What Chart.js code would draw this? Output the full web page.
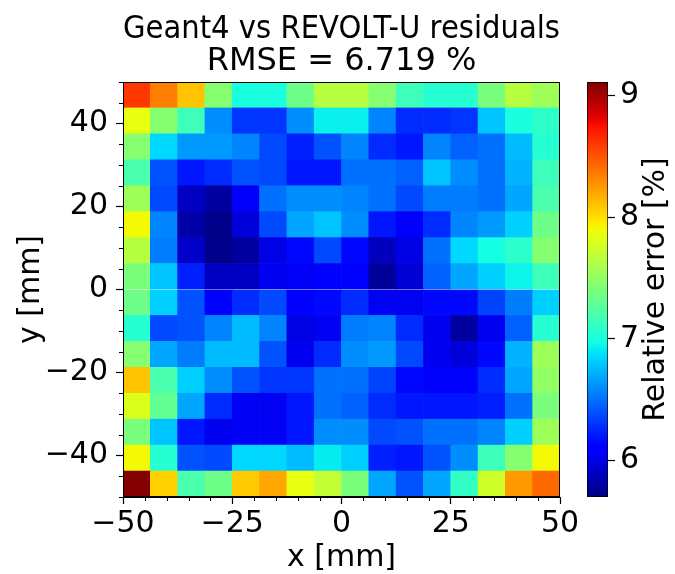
<!DOCTYPE html>
<html>
<head>
<meta charset="utf-8">
<script src="https://cdn.jsdelivr.net/npm/chart.js@4.4.0/dist/chart.umd.min.js"></script>
<style>
  body { margin: 0; background: #fff; }
  #wrap { position: relative; width: 675px; height: 574px; }
  #wrap canvas { position: absolute; top: 0; }
</style>
</head>
<body>
<div id="wrap">
  <canvas id="heat" width="675" height="574" style="left:0"></canvas>
  <canvas id="cbar" width="115" height="574" style="left:560px"></canvas>
</div>
<script>
// Residual map Geant4 vs REVOLT-U, drawn as floating bars on linear scales

const FONT = "'DejaVu Sans', sans-serif";

const titleLines = ["Geant4 vs REVOLT-U residuals", "RMSE = 6.719 %"];

// cell centres (mm), 16 x 16 grid of 6.25 mm
const cellSize = 6.25;
const xCenters = [-46.875, -40.625, -34.375, -28.125, -21.875, -15.625, -9.375, -3.125,
                  3.125, 9.375, 15.625, 21.875, 28.125, 34.375, 40.625, 46.875];
const yCenters = [46.875, 40.625, 34.375, 28.125, 21.875, 15.625, 9.375, 3.125,
                  -3.125, -9.375, -15.625, -21.875, -28.125, -34.375, -40.625, -46.875];

// relative error [%], rows from top (y = +50) to bottom (y = -50)
const relErr = [
  [8.60, 8.35, 8.10, 7.45, 7.00, 7.00, 7.35, 7.65, 7.65, 7.45, 7.15, 7.05, 7.05, 7.40, 7.65, 7.55],
  [7.85, 7.45, 7.15, 6.60, 6.30, 6.30, 6.60, 6.93, 6.93, 6.57, 6.27, 6.27, 6.30, 6.78, 7.00, 7.08],
  [7.45, 6.85, 6.64, 6.64, 6.57, 6.37, 6.23, 6.40, 6.57, 6.27, 6.20, 6.57, 6.45, 6.50, 6.75, 7.05],
  [7.20, 6.40, 6.20, 6.27, 6.40, 6.37, 6.20, 6.20, 6.50, 6.50, 6.45, 6.78, 6.60, 6.50, 6.72, 7.15],
  [7.55, 6.37, 5.90, 5.80, 6.06, 6.50, 6.60, 6.60, 6.57, 6.50, 6.37, 6.54, 6.54, 6.50, 6.68, 7.20],
  [7.90, 6.57, 5.82, 5.73, 5.97, 6.37, 6.68, 6.78, 6.60, 6.20, 6.06, 6.27, 6.57, 6.64, 6.82, 7.35],
  [7.65, 6.54, 5.92, 5.73, 5.80, 6.00, 6.15, 6.37, 6.15, 5.88, 6.00, 6.50, 6.85, 6.98, 7.08, 7.45],
  [7.40, 6.78, 6.23, 5.90, 5.90, 6.03, 6.05, 6.10, 6.08, 5.78, 5.95, 6.45, 6.68, 6.82, 6.95, 7.15],
  [7.35, 6.82, 6.40, 6.07, 6.27, 6.37, 6.10, 6.15, 6.27, 6.04, 6.04, 6.15, 6.15, 6.35, 6.54, 6.82],
  [7.05, 6.37, 6.40, 6.57, 6.75, 6.57, 6.00, 6.04, 6.54, 6.57, 6.27, 6.03, 5.80, 6.03, 6.45, 7.05],
  [7.45, 6.68, 6.54, 6.75, 6.75, 6.40, 6.03, 6.27, 6.60, 6.64, 6.37, 6.03, 5.97, 6.15, 6.72, 7.55],
  [8.10, 7.20, 6.82, 6.60, 6.40, 6.30, 6.30, 6.50, 6.50, 6.35, 6.15, 6.07, 6.07, 6.27, 6.68, 7.50],
  [7.80, 7.30, 6.68, 6.27, 6.04, 6.04, 6.20, 6.50, 6.45, 6.27, 6.20, 6.20, 6.20, 6.23, 6.50, 7.40],
  [7.40, 6.78, 6.20, 6.03, 6.05, 6.05, 6.20, 6.60, 6.60, 6.37, 6.40, 6.50, 6.50, 6.57, 6.82, 7.55],
  [7.90, 7.05, 6.40, 6.37, 6.85, 6.85, 6.75, 6.92, 6.82, 6.23, 6.20, 6.40, 6.60, 7.15, 7.45, 7.90],
  [9.10, 8.05, 7.20, 7.35, 8.07, 8.20, 7.85, 7.70, 7.40, 6.68, 6.40, 6.68, 7.10, 7.75, 8.25, 8.42]
];

// ticks
const xTicks = [-50, -25, 0, 25, 50];
const yTicks = [-40, -20, 0, 20, 40];
const cbTicks = [6, 7, 8, 9];
const cbMin = 5.70;
const cbMax = 9.11;

// jet colormap (matplotlib segment data)
const JET = {
  r: [[0, 0], [0.35, 0], [0.66, 1], [0.89, 1], [1, 0.5]],
  g: [[0, 0], [0.125, 0], [0.375, 1], [0.64, 1], [0.91, 0], [1, 0]],
  b: [[0, 0.5], [0.11, 1], [0.34, 1], [0.65, 0], [1, 0]]
};

function segInterp(seg, t) {
  for (let i = 1; i < seg.length; i++) {
    if (t <= seg[i][0]) {
      const [x0, y0] = seg[i - 1];
      const [x1, y1] = seg[i];
      return y0 + (y1 - y0) * (t - x0) / (x1 - x0);
    }
  }
  return seg[seg.length - 1][1];
}

function jet(t) {
  t = Math.min(1, Math.max(0, t));
  const r = Math.round(255 * segInterp(JET.r, t));
  const g = Math.round(255 * segInterp(JET.g, t));
  const b = Math.round(255 * segInterp(JET.b, t));
  return "rgb(" + r + "," + g + "," + b + ")";
}

function valueColor(v) {
  return jet((v - cbMin) / (cbMax - cbMin));
}

function fmtTick(v) {
  return String(v).replace("-", "\u2212");
}

// build cells
const cells = [];
const cellColors = [];
yCenters.forEach((yc, r) => {
  xCenters.forEach((xc, c) => {
    cells.push({ x: xc, y: [yc - cellSize / 2, yc + cellSize / 2] });
    cellColors.push(valueColor(relErr[r][c]));
  });
});

// frame + minor ticks
const framePlugin = {
  id: "frame",
  afterDraw(chart) {
    const { ctx, chartArea: a, scales } = chart;
    ctx.save();
    ctx.strokeStyle = "#000";
    ctx.lineWidth = 1;
    ctx.strokeRect(a.left + 0.5, a.top + 0.5, a.right - a.left - 1, a.bottom - a.top - 1);
    ctx.beginPath();
    for (let v = -50; v <= 50; v += 5) {
      if (v % 25 !== 0) {
        const px = Math.round(scales.x.getPixelForValue(v)) + 0.5;
        ctx.moveTo(px, a.bottom);
        ctx.lineTo(px, a.bottom + 4);
      }
      if (v % 20 !== 0) {
        const py = Math.round(scales.y.getPixelForValue(v)) + 0.5;
        ctx.moveTo(a.left, py);
        ctx.lineTo(a.left - 4, py);
      }
    }
    ctx.stroke();
    ctx.restore();
  }
};

const tickFont = { family: FONT, size: 30 };

new Chart(document.getElementById("heat"), {
  type: "bar",
  data: {
    datasets: [{
      data: cells,
      backgroundColor: cellColors,
      borderWidth: 0,
      barPercentage: 1,
      categoryPercentage: 1
    }]
  },
  options: {
    responsive: false,
    animation: false,
    layout: { padding: { top: 0, right: 115, bottom: 0, left: 0 } },
    plugins: {
      legend: { display: false },
      tooltip: { enabled: false },
      title: {
        display: true,
        text: titleLines,
        color: "#000",
        fullSize: false,
        font: { family: FONT, size: 32, weight: "normal", lineHeight: 1.0 },
        padding: { top: 14, bottom: 4 }
      }
    },
    scales: {
      x: {
        type: "linear",
        min: -50,
        max: 50,
        offset: false,
        grid: { drawOnChartArea: false, offset: false, tickLength: 7, tickColor: "#000", tickWidth: 1.2 },
        border: { display: true, color: "#000", width: 1 },
        ticks: { color: "#000", font: tickFont, padding: 2, maxRotation: 0, autoSkip: false, callback: fmtTick },
        afterBuildTicks: (s) => { s.ticks = xTicks.map((v) => ({ value: v })); },
        afterFit: (s) => { s.height = 77; },
        title: { display: true, text: "x [mm]", color: "#000", font: tickFont, padding: { top: 0, bottom: -2 } }
      },
      y: {
        type: "linear",
        min: -50,
        max: 50,
        grid: { drawOnChartArea: false, tickLength: 7, tickColor: "#000", tickWidth: 1.2 },
        border: { display: true, color: "#000", width: 1 },
        ticks: { color: "#000", font: tickFont, padding: 8, autoSkip: false, callback: fmtTick },
        afterBuildTicks: (s) => { s.ticks = yTicks.map((v) => ({ value: v })); },
        afterFit: (s) => { s.width = 123; },
        title: { display: true, text: "y [mm]", color: "#000", font: tickFont, padding: { top: 13, bottom: 0 } }
      }
    }
  },
  plugins: [framePlugin]
});

// colorbar
const cbarLabelPlugin = {
  id: "cbarLabel",
  afterDraw(chart) {
    const { ctx, chartArea: a } = chart;
    ctx.save();
    ctx.translate(96, (a.top + a.bottom) / 2);
    ctx.rotate(-Math.PI / 2);
    ctx.fillStyle = "#000";
    ctx.font = "30px " + FONT;
    ctx.textAlign = "center";
    ctx.textBaseline = "middle";
    ctx.fillText("Relative error [%]", 0, 0);
    ctx.restore();
  }
};

function cbarGradient(context) {
  const chart = context.chart;
  const a = chart.chartArea;
  if (!a) return "#000";
  const g = chart.ctx.createLinearGradient(0, a.bottom, 0, a.top);
  for (let i = 0; i <= 64; i++) {
    g.addColorStop(i / 64, jet(i / 64));
  }
  return g;
}

new Chart(document.getElementById("cbar"), {
  type: "bar",
  data: {
    labels: [""],
    datasets: [{
      data: [[cbMin, cbMax]],
      backgroundColor: cbarGradient,
      borderColor: "#000",
      borderWidth: 1,
      borderSkipped: false,
      barPercentage: 1,
      categoryPercentage: 1
    }]
  },
  options: {
    responsive: false,
    animation: false,
    layout: { padding: { top: 82, right: 0, bottom: 77, left: 27 } },
    plugins: { legend: { display: false }, tooltip: { enabled: false } },
    scales: {
      x: { display: false },
      y: {
        position: "right",
        min: cbMin,
        max: cbMax,
        grid: { drawOnChartArea: false, tickLength: 7, tickColor: "#000", tickWidth: 1.2 },
        border: { display: false },
        ticks: { color: "#000", font: tickFont, padding: 5, autoSkip: false },
        afterBuildTicks: (s) => { s.ticks = cbTicks.map((v) => ({ value: v })); },
        afterFit: (s) => { s.width = 67; }
      }
    }
  },
  plugins: [cbarLabelPlugin]
});
</script>
</body>
</html>
